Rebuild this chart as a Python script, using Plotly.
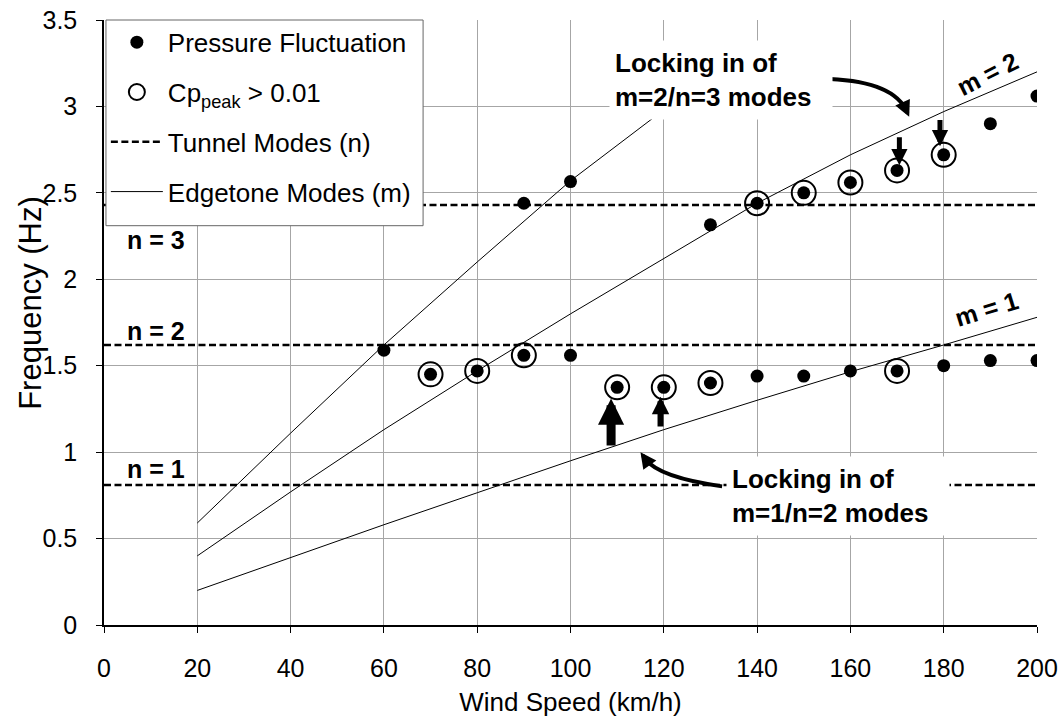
import plotly.graph_objects as go

# ---------------- data ----------------
speed_low = [60, 70, 80, 90, 100, 110, 120, 130, 140, 150, 160, 170, 180, 190, 200]
freq_low = [1.59, 1.45, 1.47, 1.56, 1.56, 1.375, 1.375, 1.40, 1.44, 1.44, 1.47, 1.47, 1.50, 1.53, 1.53]
speed_high = [90, 100, 130, 140, 150, 160, 170, 180, 190, 200]
freq_high = [2.44, 2.565, 2.315, 2.44, 2.50, 2.56, 2.63, 2.72, 2.90, 3.06]

cp_speed = [70, 80, 90, 110, 120, 130, 170, 140, 150, 160, 170, 180]
cp_freq = [1.45, 1.47, 1.56, 1.375, 1.375, 1.40, 1.47, 2.44, 2.50, 2.56, 2.63, 2.72]

tunnel_n = [1, 2, 3]
tunnel_freq = [0.81, 1.62, 2.43]

edge_speed = [20, 40, 60, 80, 100, 120, 140, 160, 180, 200]
edge_m1 = [0.20, 0.39, 0.58, 0.765, 0.95, 1.13, 1.30, 1.465, 1.62, 1.78]
edge_m2 = [0.40, 0.77, 1.13, 1.47, 1.80, 2.12, 2.44, 2.72, 2.97, 3.20]
edge_speed_m3 = [20, 40, 60, 80, 100, 120, 140]
edge_m3 = [0.59, 1.11, 1.62, 2.10, 2.57, 2.98, 3.37]

x_ticks = list(range(0, 201, 20))
y_ticks = [0, 0.5, 1, 1.5, 2, 2.5, 3, 3.5]

FONT = "Liberation Sans, Arial, sans-serif"

fig = go.Figure()

# tunnel modes (dashed)
tx, ty = [], []
for f in tunnel_freq:
    tx += [0, 200, None]
    ty += [f, f, None]
fig.add_trace(go.Scatter(x=tx, y=ty, mode="lines", name="Tunnel Modes (n)",
                         line=dict(color="black", width=2.5, dash="7px,3.5px"),
                         legendrank=3, legendgroup="c"))

# edgetone modes
for i, (xs, ys) in enumerate([(edge_speed, edge_m1), (edge_speed, edge_m2), (edge_speed_m3, edge_m3)]):
    fig.add_trace(go.Scatter(x=xs, y=ys, mode="lines", name="Edgetone Modes (m)",
                             line=dict(color="black", width=1),
                             showlegend=(i == 0), legendrank=4, legendgroup="d"))

# pressure fluctuation
fig.add_trace(go.Scatter(x=speed_low + speed_high, y=freq_low + freq_high, mode="markers",
                         name="Pressure Fluctuation",
                         marker=dict(color="black", size=13, symbol="circle"),
                         legendrank=1, legendgroup="a"))
# Cp peak
fig.add_trace(go.Scatter(x=cp_speed, y=cp_freq, mode="markers",
                         name="Cp<sub>peak</sub> > 0.01",
                         marker=dict(color="black", size=24, symbol="circle-open",
                                     line=dict(width=2, color="black")),
                         legendrank=2, legendgroup="b"))

annotations = []
# n labels
n_label_offsets = [0.09, 0.08, -0.20]
for n, f, off in zip(tunnel_n, tunnel_freq, n_label_offsets):
    annotations.append(dict(x=11.2, y=f + off, text=f"<b>n = {n}</b>", showarrow=False,
                            font=dict(size=25, color="black", family=FONT),
                            xanchor="center", yanchor="middle"))
# m labels
annotations.append(dict(x=189.3, y=3.19, text="<b>m = 2</b>", showarrow=False, textangle=-27,
                        font=dict(size=25, color="black", family=FONT)))
annotations.append(dict(x=189.1, y=1.83, text="<b>m = 1</b>", showarrow=False, textangle=-17,
                        font=dict(size=25, color="black", family=FONT)))

# text boxes
annotations.append(dict(x=132.2, y=3.155, text="<b>Locking in of<br>m=2/n=3 modes</b>", showarrow=False,
                        align="left", bgcolor="white", width=212, height=68, borderpad=5,
                        font=dict(size=26, color="black", family=FONT)))
annotations.append(dict(x=157.4, y=0.746, text="<b>Locking in of<br>m=1/n=2 modes</b>", showarrow=False,
                        align="left", bgcolor="white", width=212, height=68, borderpad=5,
                        font=dict(size=26, color="black", family=FONT)))

# y-axis title placed as in the reference
annotations.append(dict(x=-0.079, y=0.533, xref="paper", yref="paper", text="Frequency (Hz)",
                        showarrow=False, textangle=-90, xanchor="center", yanchor="middle",
                        font=dict(size=31, color="black", family=FONT)))

# straight block arrows
def block_arrow(x0, y0, x1, y1, w, size):
    return dict(x=x1, y=y1, ax=x0, ay=y0, xref="x", yref="y", axref="x", ayref="y",
                text="", showarrow=True, arrowhead=2, arrowwidth=w, arrowsize=size,
                arrowcolor="black")

annotations.append(block_arrow(108.7, 1.03, 108.7, 1.31, 9, 0.58))
annotations.append(block_arrow(119.3, 1.14, 119.3, 1.32, 6, 0.58))
annotations.append(block_arrow(170.5, 2.83, 170.5, 2.66, 5, 0.65))
annotations.append(block_arrow(179.2, 2.93, 179.2, 2.77, 5, 0.65))

# arrow heads of the curved arrows
annotations.append(block_arrow(171.6, 3.00, 172.6, 2.94, 4, 0.8))
annotations.append(block_arrow(116.6, 0.94, 115.0, 1.00, 4, 0.8))

shapes = [
    dict(type="path", xref="x", yref="y",
         path="M 155.6,3.159 Q 169.5,3.142 172.1,2.968",
         line=dict(color="black", width=4)),
    dict(type="path", xref="x", yref="y",
         path="M 132.5,0.802 Q 119.1,0.853 116.1,0.957",
         line=dict(color="black", width=4)),
    # legend frame
    dict(type="rect", xref="paper", yref="paper", x0=0.0021, x1=0.342, y0=0.66, y1=1.0,
         fillcolor="white", line=dict(color="#666666", width=1), layer="above"),
]

fig.update_layout(
    width=1063, height=721,
    margin=dict(l=104, r=26, t=20, b=96),
    paper_bgcolor="white", plot_bgcolor="white",
    font=dict(family=FONT, color="black", size=24),
    showlegend=True,
    legend=dict(x=0.002, y=1.002, xanchor="left", yanchor="top",
                bgcolor="rgba(0,0,0,0)", borderwidth=0,
                font=dict(size=26, family=FONT, color="black"),
                itemwidth=52,
                tracegroupgap=13, traceorder="grouped"),
    annotations=annotations,
    shapes=shapes,
    xaxis=dict(range=[0, 200], tickvals=x_ticks, showgrid=True, gridcolor="#a6a6a6", gridwidth=1,
               showline=True, linecolor="black", linewidth=1.5, ticks="outside", ticklen=6,
               tickcolor="black", zeroline=False, ticklabelstandoff=14, automargin=False,
               tickfont=dict(size=25),
               title=dict(text="Wind Speed (km/h)", font=dict(size=26), standoff=12)),
    yaxis=dict(range=[0, 3.5], tickvals=y_ticks, showgrid=True, gridcolor="#a6a6a6", gridwidth=1,
               showline=True, linecolor="black", linewidth=1.5, ticks="outside", ticklen=6,
               tickcolor="black", zeroline=False, ticklabelstandoff=14, automargin=False,
               tickfont=dict(size=25)),
)

fig.write_html("out.html")
